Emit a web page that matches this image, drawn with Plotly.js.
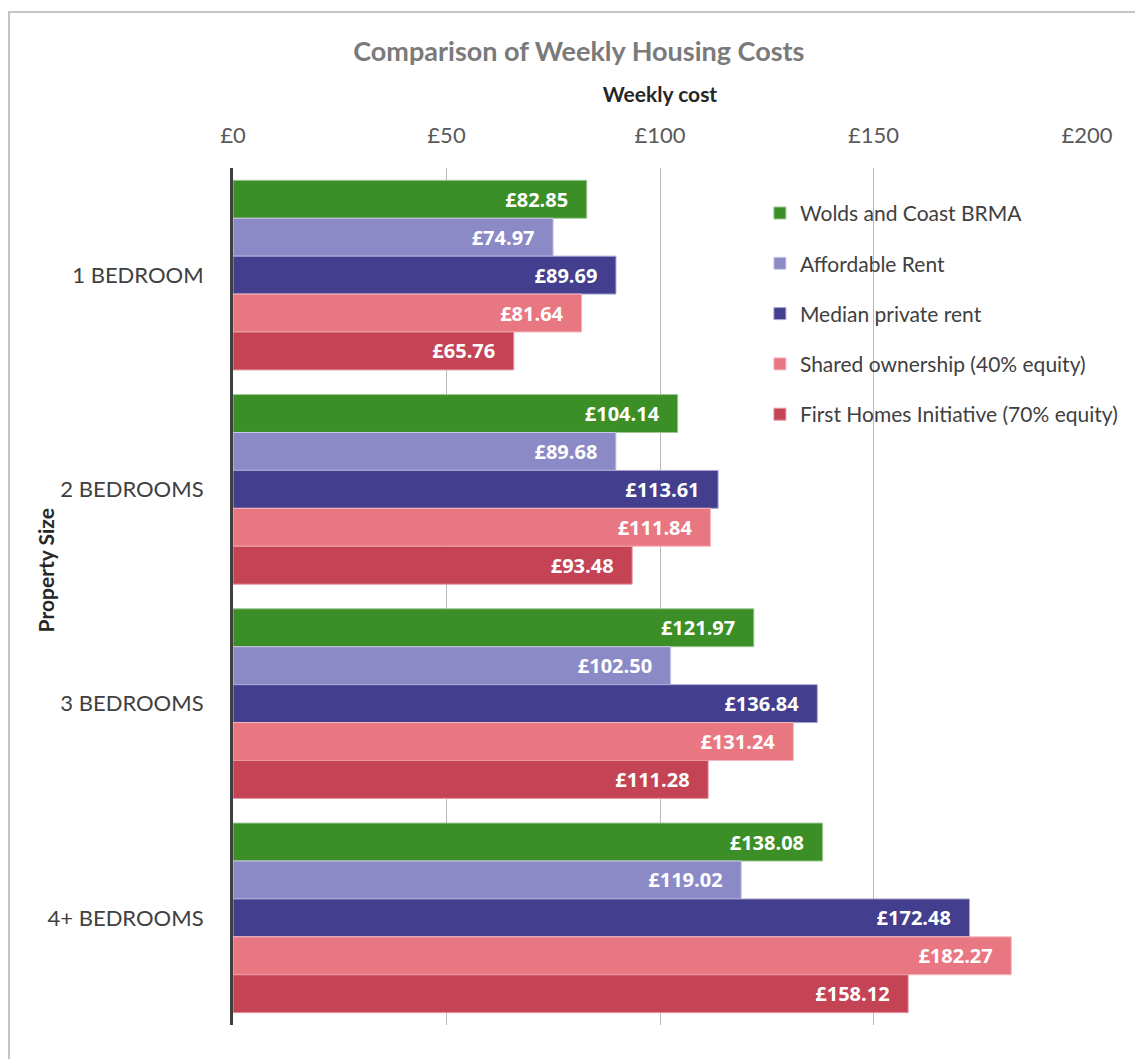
<!DOCTYPE html>
<html>
<head>
<meta charset="utf-8">
<script src="https://cdn.plot.ly/plotly-3.0.1.min.js"></script>
<style>
  html, body { margin: 0; padding: 0; background: #ffffff; }
  #wrap { position: relative; width: 1135px; height: 1059px; }
  #frame { position: absolute; left: 8px; top: 11px; width: 1140px; height: 1060px; border: 2px solid #c4c4c4; box-sizing: border-box; pointer-events: none; }
  #chart { position: absolute; left: 0; top: 0; width: 1135px; height: 1059px; }
</style>
</head>
<body>
<div id="wrap">
  <div id="chart"></div>
  <div id="frame"></div>
</div>
<script>
const categories = ["1 BEDROOM", "2 BEDROOMS", "3 BEDROOMS", "4+ BEDROOMS"];
const seriesNames = [
  "Wolds and Coast BRMA",
  "Affordable Rent",
  "Median private rent",
  "Shared ownership (40% equity)",
  "First Homes Initiative (70% equity)"
];
const woldsCoast = [82.85, 104.14, 121.97, 138.08];
const affordableRent = [74.97, 89.68, 102.50, 119.02];
const medianPrivate = [89.69, 113.61, 136.84, 172.48];
const sharedOwnership = [81.64, 111.84, 131.24, 182.27];
const firstHomes = [65.76, 93.48, 111.28, 158.12];
const xTickVals = [0, 50, 100, 150, 200];
const xTickText = ["£0", "£50", "£100", "£150", "£200"];

const colors = ["#3b8f26", "#8c8ac6", "#433f8e", "#e97782", "#c44455"];
const borderColors = ["#9cc795", "#c9c8e6", "#a9a7d2", "#f6b8be", "#e79aa4"];
const seriesValues = [woldsCoast, affordableRent, medianPrivate, sharedOwnership, firstHomes];

const FONT = "Lato, 'Open Sans', sans-serif";
const LABEL_FONT = "'Open Sans', Lato, sans-serif";
const PAD = "\u00a0\u00a0\u00a0";

const traces = seriesValues.map((vals, i) => ({
  type: "bar",
  orientation: "h",
  name: seriesNames[i],
  legendgroup: "g" + i,
  x: vals,
  y: categories,
  marker: { color: colors[i], line: { color: borderColors[i], width: 1 } },
  text: vals.map(v => "£" + v.toFixed(2) + PAD),
  textposition: "inside",
  insidetextanchor: "end",
  textangle: 0,
  constraintext: "none",
  textfont: { family: LABEL_FONT, size: 20, color: "#ffffff", weight: "bold" },
  hoverinfo: "x+name"
}));

const layout = {
  width: 1135,
  height: 1059,
  paper_bgcolor: "#ffffff",
  plot_bgcolor: "#ffffff",
  font: { family: FONT, color: "#404040" },
  margin: { l: 233, r: 46, t: 168, b: 34, pad: 0 },
  title: {
    text: "Comparison of Weekly Housing Costs",
    font: { family: FONT, size: 27, color: "#7a7a7a", weight: "bold" },
    x: 0.51, xanchor: "center", y: 0.951, yanchor: "middle"
  },
  barmode: "group",
  bargap: 0.115,
  bargroupgap: 0,
  showlegend: true,
  legend: {
    x: 0.617, y: 0.971, xanchor: "left", yanchor: "top",
    font: { family: FONT, size: 21, color: "#404040" },
    bgcolor: "rgba(255,255,255,0)",
    tracegroupgap: 20,
    traceorder: "grouped",
    itemwidth: 30
  },
  xaxis: {
    side: "top",
    range: [0, 200],
    tickvals: xTickVals,
    ticktext: xTickText,
    tickfont: { family: FONT, size: 22, color: "#595959" },
    ticklabelstandoff: 20,
    showgrid: true,
    gridcolor: "#b8b8b8",
    gridwidth: 1,
    zeroline: false,
    showline: false,
    ticks: "",
    title: {
      text: "Weekly cost",
      font: { family: FONT, size: 21, color: "#262626", weight: "bold" },
      standoff: 12
    },
    fixedrange: true
  },
  yaxis: {
    type: "category",
    autorange: "reversed",
    tickfont: { family: FONT, size: 22, color: "#404040" },
    ticklabelstandoff: 22,
    showline: true,
    linecolor: "#404040",
    linewidth: 3,
    showgrid: false,
    zeroline: false,
    ticks: "",
    fixedrange: true
  },
  annotations: [{
    text: "Property Size",
    textangle: -90,
    xref: "paper", yref: "paper",
    x: -0.2196, y: 0.531,
    xanchor: "center", yanchor: "middle",
    showarrow: false,
    font: { family: FONT, size: 21, color: "#262626", weight: "bold" }
  }]
};

Plotly.newPlot("chart", traces, layout, { displayModeBar: false, staticPlot: true });
</script>
</body>
</html>
